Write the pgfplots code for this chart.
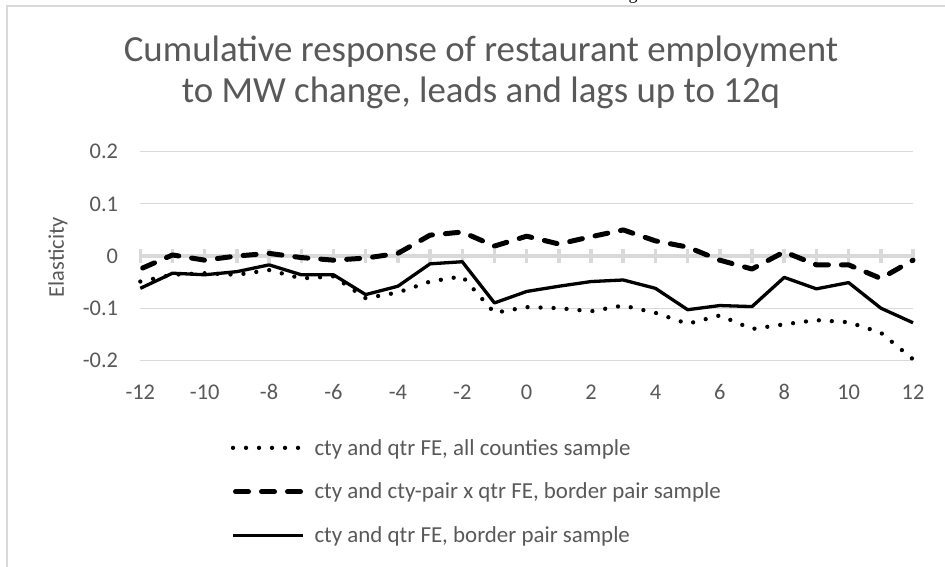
\documentclass[border=0pt]{standalone}
\usepackage{fontspec}
\setmainfont{Carlito}
\newfontfamily\serifg{Liberation Serif}
\usepackage{pgfplots}
\usepackage{pgfplotstable}
\pgfplotsset{compat=1.18}
\definecolor{txt}{HTML}{595959}
\definecolor{grd}{HTML}{D9D9D9}
\pgfplotstableread{
x dot dash sol
-12 -0.049 -0.025 -0.062
-11 -0.036 0.002 -0.033
-10 -0.033 -0.008 -0.036
-9 -0.036 0.000 -0.030
-8 -0.027 0.005 -0.017
-7 -0.043 -0.003 -0.036
-6 -0.039 -0.008 -0.036
-5 -0.081 -0.004 -0.074
-4 -0.070 0.005 -0.058
-3 -0.049 0.040 -0.015
-2 -0.039 0.046 -0.011
-1 -0.109 0.019 -0.090
0 -0.098 0.038 -0.068
1 -0.100 0.023 -0.058
2 -0.106 0.037 -0.049
3 -0.095 0.050 -0.046
4 -0.109 0.029 -0.062
5 -0.130 0.017 -0.103
6 -0.114 -0.008 -0.095
7 -0.140 -0.025 -0.097
8 -0.131 0.008 -0.041
9 -0.123 -0.017 -0.063
10 -0.127 -0.017 -0.051
11 -0.147 -0.043 -0.100
12 -0.198 -0.008 -0.128
}\data
\begin{document}
\begin{tikzpicture}
\useasboundingbox (0,0) rectangle (945bp,567bp);
\clip (0,0) rectangle (945bp,567bp);
\fill[white] (0,0) rectangle (945bp,567bp);
\draw[grd, line width=1.5bp] (7bp,0bp) -- (7bp,561bp) -- (946bp,561bp);
\node[font=\serifg\fontsize{18}{20}\selectfont, anchor=base, inner sep=0pt] at (633bp,567bp) {g};
\begin{axis}[
  at={(140.3bp,206.7bp)}, anchor=south west,
  scale only axis, width=772.7bp, height=208.6bp,
  xmin=-12, xmax=12, ymin=-0.2, ymax=0.2,
  xtick={-12,-10,...,12},
  xticklabels={-12,-10,-8,-6,-4,-2,0,2,4,6,8,10,12},
  ytick={-0.2,-0.1,0,0.1,0.2},
  yticklabels={-0.2,-0.1,0,0.1,0.2},
  ymajorgrids, grid style={grd, line width=1bp},
  axis line style={draw=none}, major tick length=0pt,
  tick label style={font=\fontsize{22.5}{27}\selectfont, text=txt},
  xticklabel style={anchor=center, yshift=-32bp},
  yticklabel style={anchor=east, inner sep=0pt, xshift=-22bp},
  ylabel={Elasticity},
  ylabel style={at={(axis description cs:-0.1065,0.495)}, anchor=center, font=\fontsize{22.5}{27}\selectfont, text=txt},
  title={Cumulative response of restaurant employment\\to MW change, leads and lags up to 12q},
  title style={at={(axis description cs:0.4409,1)}, anchor=south, yshift=37bp, inner sep=0pt, align=center, font=\fontsize{37}{41}\selectfont, text=txt},
  clip=false,
  legend style={at={(axis description cs:0.1165,-0.377)}, anchor=north west, draw=none, fill=none, inner sep=0pt, row sep=26.5bp,
    font=\fontsize{23}{27}\selectfont, text=txt, nodes={inner sep=0pt},
    /tikz/every odd column/.append style={column sep=9bp}},
  legend cell align=left,
  legend image code/.code={\draw[#1] (0bp,0bp) -- (70bp,0bp);},
]
\draw[grd, line width=4.5bp] (axis cs:-12,0) -- (axis cs:12,0);
\pgfplotsinvokeforeach{-12,-11,...,12}{
  \draw[grd, line width=3.5bp] (axis cs:#1,0) ++(0bp,-7bp) -- ++(0bp,14bp);
}
\addplot[black, line width=4.3bp, line cap=round, dash pattern=on 0bp off 13bp, mark=none] table[x=x,y=dot] {\data};
\addlegendentry{cty and qtr FE, all counties sample}
\addplot[black, line width=5bp, line cap=round, line join=round, dash pattern=on 13bp off 13bp, dash phase=-2.5bp, mark=none] table[x=x,y=dash] {\data};
\addlegendentry{cty and cty-pair x qtr FE, border pair sample}
\addplot[black, line width=3.3bp, line join=round, mark=none] table[x=x,y=sol] {\data};
\addlegendentry{cty and qtr FE, border pair sample}
\end{axis}
\end{tikzpicture}
\end{document}
